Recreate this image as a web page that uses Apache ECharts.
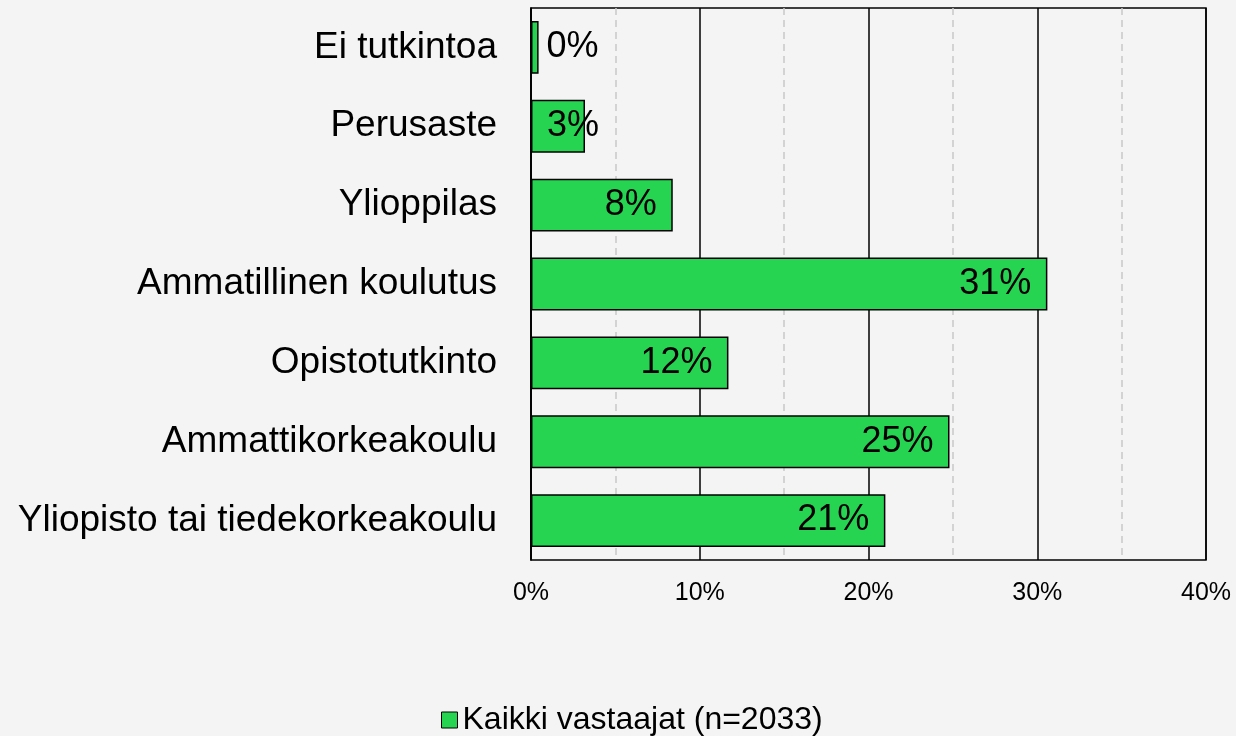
<!DOCTYPE html>
<html>
<head>
<meta charset="utf-8">
<script src="https://cdn.jsdelivr.net/npm/echarts@6/dist/echarts.min.js"></script>
<style>
  html, body { margin: 0; padding: 0; background: #f4f4f4; }
  #main { width: 1236px; height: 736px; }
</style>
</head>
<body>
<div id="main"></div>
<script>
// koulutustaso
const categories = [
  "Ei tutkintoa",
  "Perusaste",
  "Ylioppilas",
  "Ammatillinen koulutus",
  "Opistotutkinto",
  "Ammattikorkeakoulu",
  "Yliopisto tai tiedekorkeakoulu"
];
const values = [0.45, 3.2, 8.4, 30.6, 11.7, 24.8, 21.0];
const seriesName = "Kaikki vastaajat (n=2033)";

const font = "Arial, 'Liberation Sans', sans-serif";

// pienet palkit: tunniste palkin ulkopuolelle / alkuun
function labelFor(v) {
  if (v < 1) return { position: "right", distance: 8 };
  if (v < 5) return { position: "insideLeft", distance: 16 };
  return { position: "insideRight", distance: 16 };
}

const chart = echarts.init(document.getElementById("main"));
chart.setOption({
  backgroundColor: "#f4f4f4",
  animation: false,
  textStyle: { fontFamily: font },
  grid: {
    left: 531, top: 8, width: 675, height: 552,
    show: true, borderColor: "#000", borderWidth: 1.5,
    backgroundColor: "transparent"
  },
  legend: {
    bottom: -5, left: 436,
    itemWidth: 16, itemHeight: 16,
    icon: "rect",
    textStyle: { fontSize: 32, color: "#000", fontFamily: font },
    data: [{ name: seriesName, itemStyle: { borderColor: "#000", borderWidth: 1 } }]
  },
  xAxis: {
    type: "value",
    min: 0, max: 40, interval: 10,
    axisLine: { show: false },
    axisTick: { show: false },
    axisLabel: { formatter: "{value}%", fontSize: 25, color: "#000", margin: 21, fontFamily: font },
    splitLine: { show: true, lineStyle: { color: "#000", width: 1.5 } },
    minorTick: { show: false, splitNumber: 2 },
    minorSplitLine: { show: true, lineStyle: { color: "#c8c8c8", type: [7, 5], width: 1.5 } }
  },
  yAxis: {
    type: "category",
    inverse: true,
    data: categories,
    axisLine: { show: true, lineStyle: { color: "#000", width: 1.5 } },
    axisTick: { show: false },
    axisLabel: { fontSize: 37, color: "#000", margin: 34, fontFamily: font }
  },
  series: [{
    name: seriesName,
    type: "bar",
    barCategoryGap: "33%",
    data: values.map(v => ({ value: v, label: labelFor(v) })),
    itemStyle: { color: "#26d452", borderColor: "#000", borderWidth: 1.5 },
    label: {
      show: true,
      fontSize: 36,
      color: "#000",
      fontFamily: font,
      formatter: p => Math.round(p.value) + "%"
    }
  }]
});
</script>
</body>
</html>
